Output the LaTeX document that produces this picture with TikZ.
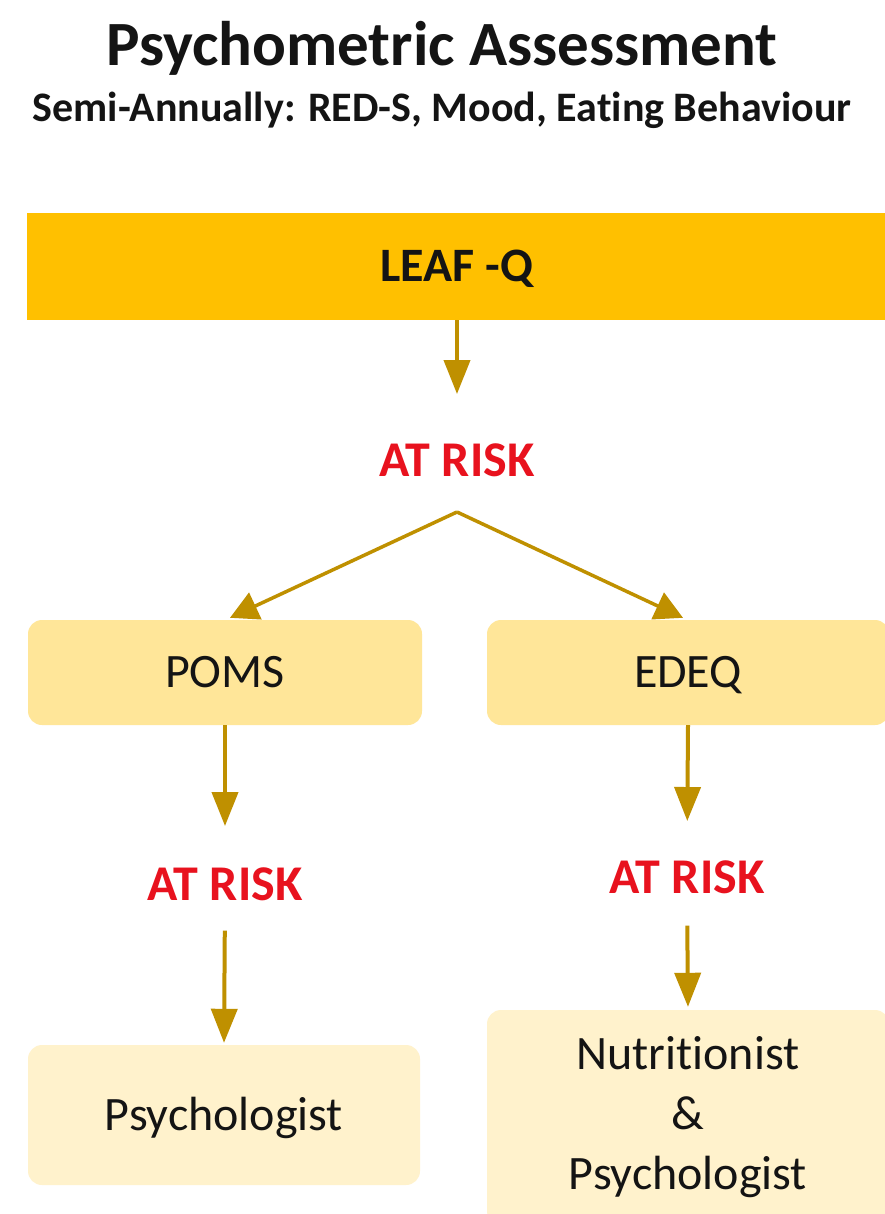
\documentclass[tikz,border=0pt]{standalone}
\usepackage{fontspec}
\setmainfont{Carlito}[Ligatures=NoCommon]
\usetikzlibrary{arrows.meta}
\definecolor{leafc}{RGB}{255,192,0}
\definecolor{midc}{RGB}{255,230,153}
\definecolor{lightc}{RGB}{255,242,204}
\definecolor{arrc}{RGB}{191,144,0}
\definecolor{riskc}{RGB}{232,18,30}
\definecolor{txtc}{RGB}{20,20,20}
\begin{document}
\begin{tikzpicture}[x=1pt,y=-1pt,
  arr/.style={draw=arrc,line width=4pt,-{Triangle[width=26pt,length=34pt]}},
  thin arr/.style={draw=arrc,line width=3.5pt,-{Triangle[width=29pt,length=28pt]}},
  midbox/.style={fill=midc,rounded corners=14pt,inner sep=0pt,text=txtc,
    font=\fontsize{48}{60}\selectfont,text height=30pt,text depth=0pt},
  lightbox/.style={fill=lightc,rounded corners=14pt,inner sep=0pt,text=txtc,
    font=\fontsize{48}{60}\selectfont},
  risk/.style={text=riskc,inner sep=0pt,font=\fontsize{50}{60}\selectfont\bfseries,anchor=base}]
\useasboundingbox (0,0) rectangle (884,1214);
\fill[white] (0,0) rectangle (884,1214);
% titles
\node[anchor=base,inner sep=0pt,text=txtc,font=\fontsize{63}{70}\selectfont\bfseries] (title) at (442,66) {Psychometric Assessment};
\node[anchor=base,inner sep=0pt,text=txtc,font=\fontsize{42}{50}\selectfont\bfseries] (subtitle) at (442,122) {Semi-Annually: RED-S, Mood, Eating Behaviour};
% LEAF-Q bar
\node[fill=leafc,inner sep=0pt,minimum width=860pt,minimum height=107pt,text=txtc,
  font=\fontsize{48}{60}\selectfont\bfseries,text height=30pt,text depth=0pt] (leaf) at (457,266.5) {LEAF -Q};
\node[risk] (r1) at (457,476) {AT RISK};
\coordinate (fork) at (457,512);
% level 2 boxes
\node[midbox,minimum width=394pt,minimum height=105pt] (poms) at (225,672.5) {POMS};
\node[midbox,minimum width=402pt,minimum height=105pt] (edeq) at (688,672.5) {EDEQ};
\node[risk] (r2) at (225,900) {AT RISK};
\node[risk] (r3) at (687,893) {AT RISK};
% bottom boxes
\node[lightbox,minimum width=392pt,minimum height=140pt,text height=30pt,text depth=0pt] (psych) at (224,1115) {Psychologist};
\node[lightbox,minimum width=402pt,minimum height=215pt,align=center] (nutr) at (688,1117.5) {Nutritionist\\\&\\Psychologist};
% connectors
\draw[arr,shorten >=49pt] (leaf.south) -- (r1.north);
\draw[thin arr] (fork) -- ([xshift=5pt,yshift=2pt]poms.north);
\draw[thin arr] (fork) -- ([xshift=-5pt,yshift=2pt]edeq.north);
\draw[arr,shorten >=41pt] (poms.south) -- (r2.north);
\draw[arr,shorten <=30pt,shorten >=2pt] (r2.south) -- (psych.north);
\draw[arr,shorten >=39pt] (edeq.south) -- (r3.north);
\draw[arr,shorten <=32pt,shorten >=3pt] (r3.south) -- (nutr.north);
\end{tikzpicture}
\end{document}
